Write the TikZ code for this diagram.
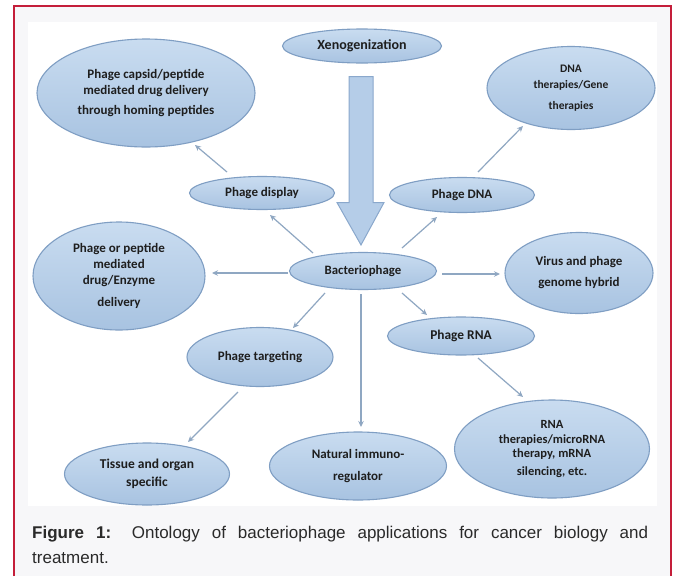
\documentclass[tikz,border=0pt]{standalone}
\usepackage{fontspec}
\setmainfont{Carlito}
\newfontfamily\capfont{Liberation Sans}
\usetikzlibrary{shapes.geometric,arrows.meta,calc}
\definecolor{frame}{HTML}{C41E3A}
\definecolor{panel}{HTML}{F7F7F9}
\definecolor{ellTop}{HTML}{C9DCF0}
\definecolor{ellBot}{HTML}{A8C3E1}
\definecolor{ellLine}{HTML}{7F9EC3}
\definecolor{arrFill}{HTML}{B5CDE8}
\definecolor{arrLine}{HTML}{8AA8CC}
\definecolor{conn}{HTML}{8FA7C2}
\definecolor{txt}{HTML}{1E1E1E}
\definecolor{captxt}{HTML}{2A2A2A}
\begin{document}
\begin{tikzpicture}[x=1pt,y=-1pt,
  bubble/.style={ellipse, draw=ellLine, line width=1.1pt, top color=ellTop, bottom color=ellBot,
    inner sep=0pt, align=center, text=txt, font=\bfseries\fontsize{13}{16}\selectfont},
  link/.style={draw=conn, line width=1.2pt, -{Stealth[length=6pt,width=5.5pt]}}]
\useasboundingbox (0,0) rectangle (680,576);
\fill[white] (0,0) rectangle (680,576);
\fill[panel] (14,6) rectangle (671,576);
\fill[white] (28,22) rectangle (657,506);
\draw[frame, line width=1.5pt] (14,576) -- (14,6) -- (671,6) -- (671,576);

% nodes
\node[bubble, minimum width=159pt, minimum height=34pt, font=\bfseries\fontsize{14}{16}\selectfont] (xeno) at (362,46) {Xenogenization};
\node[bubble, minimum width=147pt, minimum height=37pt, font=\bfseries\fontsize{12.8}{14}\selectfont] (bact) at (363,271) {Bacteriophage};
\node[bubble, minimum width=145pt, minimum height=33pt] (disp) at (262,193) {Phage display};
\node[bubble, minimum width=145pt, minimum height=35pt] (pdna) at (462,195) {Phage DNA};
\node[bubble, minimum width=218pt, minimum height=108pt] (caps) at (146,93) {Phage capsid/peptide\\mediated drug delivery\\[4pt]through homing peptides};
\node[bubble, minimum width=168pt, minimum height=83pt, font=\bfseries\fontsize{11.5}{16}\selectfont] (dnat) at (571,88) {DNA\\therapies/Gene\\[5pt]therapies};
\node[bubble, minimum width=172pt, minimum height=108pt] (pep) at (119,276) {Phage or peptide\\mediated\\drug/Enzyme\\[6pt]delivery};
\node[bubble, minimum width=148pt, minimum height=81pt] (vir) at (579,273) {Virus and phage\\[5pt]genome hybrid};
\node[bubble, minimum width=146pt, minimum height=59pt] (targ) at (260,357) {Phage targeting};
\node[bubble, minimum width=147pt, minimum height=38pt, font=\bfseries\fontsize{13.4}{16}\selectfont] (prna) at (461,336) {Phage RNA};
\node[bubble, minimum width=165pt, minimum height=62pt, font=\bfseries\fontsize{13.5}{16}\selectfont] (tiss) at (147,474) {Tissue and organ\\[2pt]specific};
\node[bubble, minimum width=177pt, minimum height=68pt] (nat) at (358,466) {Natural immuno-\\[6pt]regulator};
\node[bubble, minimum width=195pt, minimum height=98pt, font=\bfseries\fontsize{12.5}{14.5}\selectfont] (rnat) at (552,449) {RNA\\therapies/microRNA\\therapy, mRNA\\[3pt]silencing, etc.};

% big arrow from Xenogenization to Bacteriophage
\draw[draw=arrLine, line width=1pt, fill=arrFill]
  ($(xeno.south)+(-13,13)$) -- ($(xeno.south)+(11,13)$) -- ($(xeno.south)+(11,139)$)
  -- ($(xeno.south)+(22,139)$) -- ($(bact.north)+(-2,-7)$) -- ($(xeno.south)+(-25,139)$)
  -- ($(xeno.south)+(-13,139)$) -- cycle;

% connectors
\draw[link] ($(disp)+(-35,-21)$) -- ($(caps)+(49,52)$);
\draw[link] ($(bact)+(-50,-18)$) -- ($(disp)+(8,22)$);
\draw[link] ($(bact)+(39,-23)$) -- ($(pdna)+(-25,22)$);
\draw[link] ($(pdna)+(16,-23)$) -- ($(dnat)+(-48,38)$);
\draw[link] ($(bact)+(-75,2)$) -- ($(pep)+(93,-3)$);
\draw[link] ($(bact)+(79,3)$) -- ($(vir)+(-79,1)$);
\draw[link] ($(bact)+(-38,22)$) -- ($(targ)+(33,-29)$);
\draw[link] ($(bact)+(39,22)$) -- ($(prna)+(-34,-21)$);
\draw[link] ($(bact)+(-2,23)$) -- ($(nat)+(3,-39)$);
\draw[link] ($(prna)+(17,22)$) -- ($(rnat)+(-29,-52)$);
\draw[link] ($(targ)+(-22,35)$) -- ($(tiss)+(41,-32)$);

% caption
\node[anchor=north west, inner sep=0pt, text=captxt] (cap) at (32,526)
  {\parbox{616pt}{\capfont\fontsize{17}{25}\selectfont\textbf{Figure 1:} Ontology of bacteriophage applications for cancer biology and\linebreak treatment.}};
\end{tikzpicture}
\end{document}
